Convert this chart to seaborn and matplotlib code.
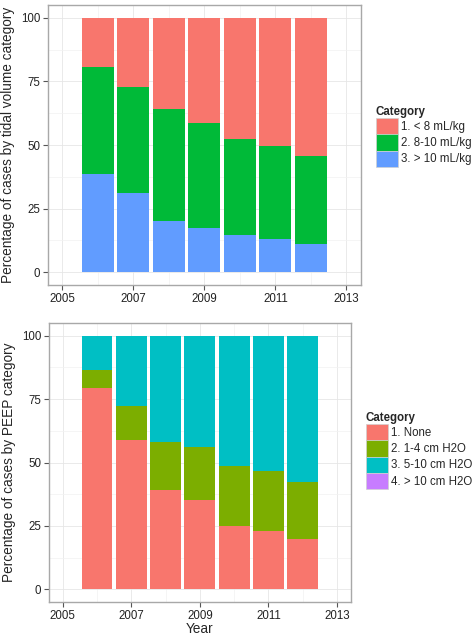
import numpy as np
import matplotlib
matplotlib.use('Agg')
import matplotlib.pyplot as plt
from matplotlib.patches import Patch
from matplotlib.ticker import MultipleLocator
import seaborn as sns

years = [2006, 2007, 2008, 2009, 2010, 2011, 2012]

# tidal volume categories (% of cases)
tv_labels = ['1. < 8 mL/kg', '2. 8-10 mL/kg', '3. > 10 mL/kg']
tv_lt8 = [19.2, 27.3, 35.8, 41.3, 47.5, 50.3, 54.5]
tv_8to10 = [42.0, 41.7, 44.0, 41.4, 37.8, 36.7, 34.5]
tv_gt10 = [38.8, 31.0, 20.2, 17.3, 14.7, 13.0, 11.0]
tv_colors = ['#F8766D', '#00BA38', '#619CFF']

# PEEP categories (% of cases)
peep_labels = ['1. None', '2. 1-4 cm H2O', '3. 5-10 cm H2O', '4. > 10 cm H2O']
peep_none = [79.4, 59.0, 39.2, 35.4, 24.8, 22.9, 19.8]
peep_1to4 = [7.1, 13.3, 19.0, 20.6, 23.7, 23.6, 22.7]
peep_5to10 = [13.5, 27.7, 41.8, 44.0, 51.5, 53.5, 57.5]
peep_gt10 = [0, 0, 0, 0, 0, 0, 0]
peep_colors = ['#F8766D', '#7CAE00', '#00BFC4', '#C77CFF']

sns.set_style('white')
plt.rcParams['font.family'] = ['Liberation Sans', 'DejaVu Sans']

W, H = 472, 636
fig = plt.figure(figsize=(W / 100, H / 100), dpi=100)


def px_axes(l, t, r, b):
    return fig.add_axes([l / W, 1 - b / H, (r - l) / W, (b - t) / H])


def stacked(ax, series, colors):
    # series given bottom -> top; draw tallest cumulative first
    cum = np.cumsum(np.array(series, dtype=float), axis=0)
    for i in range(len(series) - 1, -1, -1):
        sns.barplot(x=years, y=cum[i], native_scale=True, width=0.9,
                    color=colors[i], saturation=1, linewidth=0,
                    errorbar=None, ax=ax)


def style(ax, ylabel, xlabel=None):
    ax.set_xlim(2004.6, 2013.41)
    ax.set_ylim(-5, 105)
    ax.xaxis.set_major_locator(MultipleLocator(2))
    ax.xaxis.set_minor_locator(MultipleLocator(1))
    ax.yaxis.set_major_locator(MultipleLocator(25))
    ax.yaxis.set_minor_locator(MultipleLocator(12.5))
    ax.set_xticks([2005, 2007, 2009, 2011, 2013])
    ax.set_xticklabels(['2005', '2007', '2009', '2011', '2013'])
    ax.set_axisbelow(True)
    ax.grid(True, which='major', color='#e6e6e6', lw=0.6)
    ax.grid(True, which='minor', color='#f2f2f2', lw=0.5)
    for s in ax.spines.values():
        s.set_color('#a8a8a8')
        s.set_linewidth(1.0)
    ax.tick_params(axis='both', which='major', direction='out', length=3.5,
                   width=0.8, color='#555555', labelsize=8.3,
                   labelcolor='#222222', bottom=True, left=True, pad=2)
    ax.tick_params(which='minor', length=0)
    ax.set_ylabel(ylabel, fontsize=9.8, labelpad=4)
    ax.set_xlabel(xlabel if xlabel else '', fontsize=9.8, labelpad=0)


def legend(ax, labels, colors, x, y):
    handles = [Patch(facecolor=c, edgecolor='#d0d0d0', linewidth=0.5) for c in colors]
    leg = ax.legend(handles, labels, title='Category', loc='upper left',
                    bbox_to_anchor=(x / W, 1 - y / H), bbox_transform=fig.transFigure,
                    frameon=False, fontsize=8.3, handlelength=1.9, handleheight=1.8,
                    labelspacing=0.0, handletextpad=0.3, borderpad=0,
                    borderaxespad=0, alignment='left')
    leg.get_title().set_fontweight('bold')
    leg.get_title().set_fontsize(8.3)


ax1 = px_axes(48, 5, 361, 285)
stacked(ax1, [tv_gt10, tv_8to10, tv_lt8], tv_colors[::-1])
style(ax1, 'Percentage of cases by tidal volume category')
legend(ax1, tv_labels, tv_colors, 376, 106)

ax2 = px_axes(49, 323, 351, 602)
stacked(ax2, [peep_none, peep_1to4, peep_5to10, peep_gt10], peep_colors)
style(ax2, 'Percentage of cases by PEEP category', 'Year')
legend(ax2, peep_labels, peep_colors, 366, 412)

fig.savefig('out.png', dpi=100)
